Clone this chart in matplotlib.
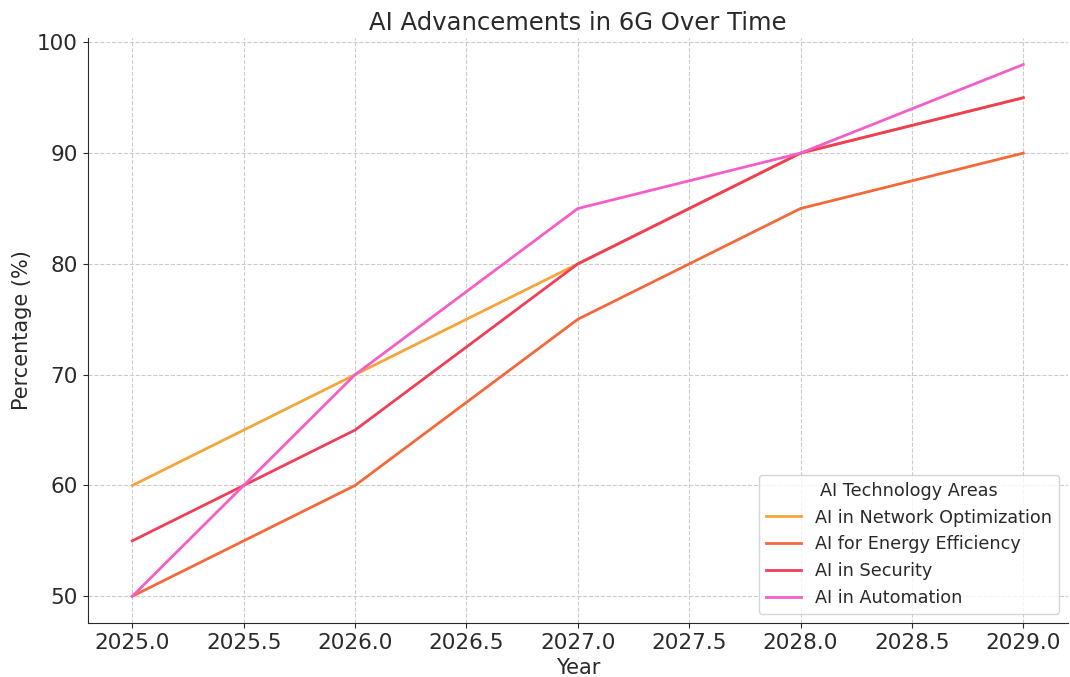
import matplotlib
matplotlib.use("Agg")
import matplotlib.pyplot as plt

years = [2025, 2026, 2027, 2028, 2029]
network_opt = [60, 70, 80, 90, 95]
energy_eff = [50, 60, 75, 85, 90]
security = [55, 65, 80, 90, 95]
automation = [50, 70, 85, 90, 98]

series_labels = ["AI in Network Optimization", "AI for Energy Efficiency",
                 "AI in Security", "AI in Automation"]
colors = ["#f5a53a", "#f4693a", "#ef3f58", "#f55ec6"]

fig, ax = plt.subplots(figsize=(10.7, 6.77), dpi=100)
for vals, lab, c in zip([network_opt, energy_eff, security, automation], series_labels, colors):
    ax.plot(years, vals, color=c, lw=2, label=lab)

ax.set_title("AI Advancements in 6G Over Time", fontsize=17.5, color="#2a2a2a")
ax.set_xlabel("Year", fontsize=15, color="#2a2a2a")
ax.set_ylabel("Percentage (%)", fontsize=15, color="#2a2a2a")
ax.tick_params(labelsize=15.5, colors="#2a2a2a")
ax.set_yticks([50, 60, 70, 80, 90, 100])
ax.grid(True, linestyle="--", color="#cccccc", lw=0.8)
ax.spines["top"].set_visible(False)
ax.spines["right"].set_visible(False)
ax.spines["left"].set_color("#2a2a2a")
ax.spines["bottom"].set_color("#2a2a2a")
leg = ax.legend(title="AI Technology Areas", loc="lower right", fontsize=12.7, title_fontsize=12.7)
for t in leg.get_texts():
    t.set_color("#2a2a2a")
leg.get_title().set_color("#2a2a2a")
fig.subplots_adjust(left=0.082, right=0.998, top=0.944, bottom=0.08)
fig.savefig("out.png", dpi=100)
